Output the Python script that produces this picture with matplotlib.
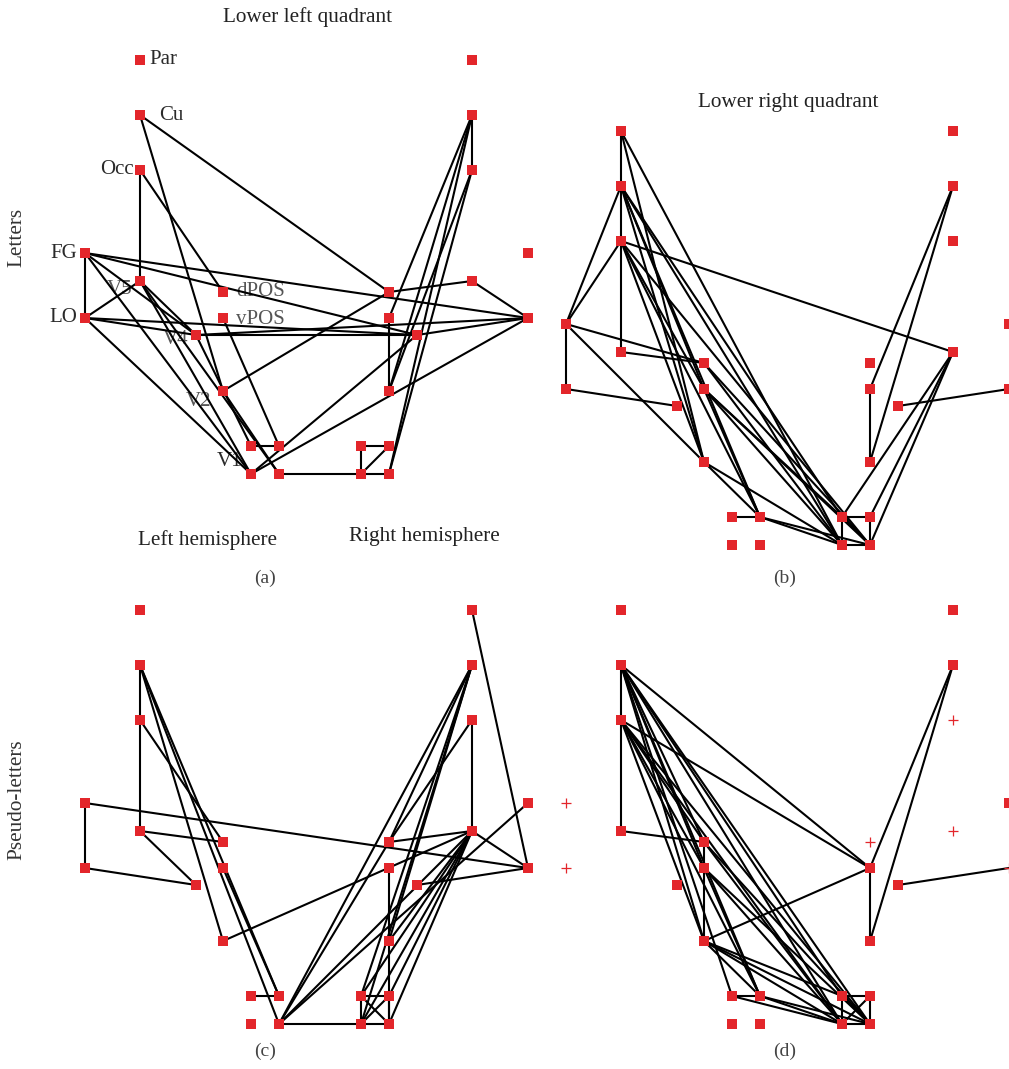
import matplotlib
matplotlib.use("Agg")
import matplotlib.pyplot as plt

# ---------------- data ----------------
# region names (left hemisphere / right hemisphere, prefix r)
regions_left = ["Par", "Cu", "Occ", "FG", "V5", "LO", "dPOS", "vPOS", "V4", "V2", "A", "B", "C", "D"]
regions_right = ["r" + n for n in regions_left]

# connections per panel
edges_a = [
    ("FG", "LO"), ("Occ", "V5"), ("Occ", "dPOS"), ("Cu", "V2"), ("Cu", "rdPOS"),
    ("FG", "rLO"), ("FG", "rV4"), ("FG", "V4"), ("FG", "C"),
    ("LO", "V5"), ("LO", "V4"), ("LO", "rV4"), ("LO", "C"),
    ("V5", "V4"), ("V5", "C"), ("V5", "D"),
    ("V4", "A"), ("V4", "rV4"), ("V4", "rLO"),
    ("vPOS", "B"), ("V2", "D"), ("V2", "rdPOS"),
    ("A", "B"), ("D", "rC"), ("C", "rV4"), ("C", "rLO"),
    ("rCu", "rOcc"), ("rCu", "rvPOS"), ("rCu", "rV2"), ("rCu", "rD"),
    ("rOcc", "rV2"), ("rOcc", "rD"),
    ("rdPOS", "rV5"), ("rV5", "rLO"), ("rvPOS", "rV2"), ("rV4", "rLO"),
    ("rA", "rB"), ("rA", "rC"), ("rC", "rD"), ("rC", "rB"),
]
edges_b = [
    ("Par", "Cu"), ("Cu", "Occ"), ("Occ", "V5"),
    ("Par", "V2"), ("Par", "rC"),
    ("Cu", "FG"), ("Cu", "V2"), ("Cu", "B"), ("Cu", "rC"), ("Cu", "vPOS"), ("Cu", "rA"),
    ("Occ", "FG"), ("Occ", "rV5"), ("Occ", "B"), ("Occ", "rD"), ("Occ", "V2"), ("Occ", "vPOS"),
    ("FG", "LO"), ("FG", "dPOS"), ("FG", "V2"),
    ("V5", "dPOS"), ("LO", "V4"),
    ("dPOS", "rC"), ("dPOS", "rD"),
    ("vPOS", "B"), ("vPOS", "rC"), ("vPOS", "rD"), ("vPOS", "rA"),
    ("V2", "B"), ("V2", "rC"),
    ("A", "B"), ("B", "rC"), ("B", "rD"),
    ("rA", "rB"), ("rA", "rC"), ("rC", "rD"), ("rB", "rD"), ("rA", "rD"),
    ("rCu", "rvPOS"), ("rCu", "rV2"), ("rvPOS", "rV2"),
    ("rV5", "rA"), ("rV5", "rB"), ("rV5", "rD"), ("rV4", "rLO"),
]
edges_c = [
    ("Cu", "Occ"), ("Occ", "V5"), ("Cu", "V2"), ("Cu", "B"), ("Cu", "D"), ("Occ", "dPOS"),
    ("FG", "LO"), ("FG", "rLO"), ("V5", "dPOS"), ("V5", "V4"), ("LO", "V4"),
    ("vPOS", "B"), ("V2", "rV5"), ("A", "B"), ("D", "rC"),
    ("D", "rdPOS"), ("D", "rCu"), ("D", "rV5"), ("D", "rFG"),
    ("rPar", "rLO"), ("rCu", "rdPOS"), ("rCu", "rV2"), ("rCu", "rA"), ("rCu", "rC"),
    ("rOcc", "rV5"), ("rOcc", "rdPOS"), ("rdPOS", "rV5"), ("rV5", "rLO"), ("rV4", "rLO"),
    ("rV5", "rA"), ("rV5", "rC"), ("rV5", "rB"), ("rV5", "rD"), ("rV5", "rV2"),
    ("rvPOS", "rV2"), ("rV2", "rD"),
    ("rA", "rB"), ("rA", "rC"), ("rC", "rD"), ("rB", "rD"), ("rA", "rD"), ("rB", "rC"),
]
edges_d = [
    ("Cu", "Occ"), ("Occ", "V5"), ("Cu", "rvPOS"), ("Occ", "rvPOS"),
    ("Cu", "dPOS"), ("Cu", "vPOS"), ("Cu", "V2"), ("Cu", "B"), ("Cu", "rA"),
    ("Cu", "rC"), ("Cu", "rD"), ("Cu", "A"),
    ("Occ", "dPOS"), ("Occ", "vPOS"), ("Occ", "V2"), ("Occ", "B"), ("Occ", "rC"), ("Occ", "rD"),
    ("V5", "dPOS"), ("dPOS", "vPOS"), ("vPOS", "V2"),
    ("V2", "rvPOS"), ("V2", "B"), ("V2", "rA"), ("V2", "rC"), ("V2", "rD"),
    ("vPOS", "B"), ("vPOS", "rC"), ("vPOS", "rD"),
    ("dPOS", "rC"), ("dPOS", "rD"),
    ("A", "B"), ("A", "rC"), ("B", "rC"), ("B", "rD"),
    ("rA", "rB"), ("rA", "rC"), ("rC", "rD"), ("rB", "rD"), ("rA", "rD"), ("rB", "rC"),
    ("rvPOS", "rV2"), ("rCu", "rvPOS"), ("rCu", "rV2"), ("rV4", "rLO"),
]
# regions not active in a panel (drawn as +)
absent_a = []
absent_b = []
absent_c = []
absent_d = ["FG", "LO", "rdPOS", "rV5", "rOcc", "rLO"]

panel_letters = ["(a)", "(b)", "(c)", "(d)"]
node_labels = {"Par": "Par", "Cu": "Cu", "Occ": "Occ", "FG": "FG", "V5": "V5", "LO": "LO",
               "dPOS": "dPOS", "vPOS": "vPOS", "V4": "V4", "V2": "V2", "C": "V1"}

# ---------------- layout (pixel frame of panel a) ----------------
layout = {
    "Par": (140, 60), "Cu": (140, 115), "Occ": (140, 170), "FG": (85, 253),
    "V5": (140, 281), "LO": (85, 318), "dPOS": (223, 292), "vPOS": (223, 318),
    "V4": (196, 335), "V2": (223, 391), "A": (251, 446), "B": (279, 446),
    "C": (251, 474), "D": (279, 474),
    "rPar": (472, 60), "rCu": (472, 115), "rOcc": (472, 170), "rFG": (528, 253),
    "rV5": (472, 281), "rLO": (528, 318), "rdPOS": (389, 292), "rvPOS": (389, 318),
    "rV4": (417, 335), "rV2": (389, 391), "rA": (361, 446), "rB": (389, 446),
    "rC": (361, 474), "rD": (389, 474),
}
offsets = [(0, 0), (481, 71), (0, 550), (481, 550)]

W, H = 1009, 1069
fig = plt.figure(figsize=(W / 100, H / 100), dpi=100)
ax = fig.add_axes([0, 0, 1, 1])
ax.set_xlim(0, W)
ax.set_ylim(H, 0)
ax.axis("off")

RED = "#e3262b"
SERIF = ["Liberation Serif", "DejaVu Serif"]
all_edges = [edges_a, edges_b, edges_c, edges_d]
all_absent = [absent_a, absent_b, absent_c, absent_d]

for (ox, oy), edges, absent in zip(offsets, all_edges, all_absent):
    for u, v in edges:
        x1, y1 = layout[u]
        x2, y2 = layout[v]
        ax.plot([x1 + ox, x2 + ox], [y1 + oy, y2 + oy], color="black", lw=1.5,
                solid_capstyle="round", zorder=2)
    for name in regions_left + regions_right:
        x, y = layout[name]
        if name in absent:
            ax.plot(x + ox, y + oy, marker="+", color=RED, markersize=7,
                    markeredgewidth=0.9, linestyle="none", zorder=3)
        else:
            ax.plot(x + ox, y + oy, marker="s", color=RED, markersize=6.8,
                    markeredgewidth=0, linestyle="none", zorder=3)

# node labels on panel (a)
lab_pos = {
    "Par": (149, 60, "left"), "Cu": (159, 115, "left"), "Occ": (134, 169, "right"),
    "FG": (77, 253, "right"), "LO": (77, 318, "right"), "V5": (120, 290, "center"),
    "dPOS": (236, 292, "left"), "vPOS": (236, 320, "left"), "V4": (176, 340, "center"),
    "V2": (199, 401, "center"), "C": (230, 462, "center"),
}
for key, txt in node_labels.items():
    x, y, ha = lab_pos[key]
    col = "#555555" if key in ("V5", "V4", "V2", "dPOS", "vPOS") else "#2a2a2a"
    ax.text(x, y, txt, ha=ha, va="center", fontsize=15, family=SERIF, color=col, zorder=1)

TS = 15.3
ax.text(308, 17, "Lower left quadrant", ha="center", va="center", fontsize=TS, family=SERIF, color="#222222")
ax.text(788, 102, "Lower right quadrant", ha="center", va="center", fontsize=TS, family=SERIF, color="#222222")
ax.text(17, 237, "Letters", ha="center", va="center", rotation=90, fontsize=TS, family=SERIF, color="#333333")
ax.text(17, 800, "Pseudo-letters", ha="center", va="center", rotation=90, fontsize=TS, family=SERIF, color="#333333")
ax.text(208, 540, "Left hemisphere", ha="center", va="center", fontsize=TS, family=SERIF, color="#222222")
ax.text(424, 536, "Right hemisphere", ha="center", va="center", fontsize=TS, family=SERIF, color="#222222")

for (px, py), lab in zip([(265, 578), (785, 578), (265, 1051), (785, 1051)], panel_letters):
    ax.text(px, py, lab, ha="center", va="center", fontsize=14, family=SERIF, color="#444444")

fig.savefig("out.png", dpi=100, facecolor="white")
